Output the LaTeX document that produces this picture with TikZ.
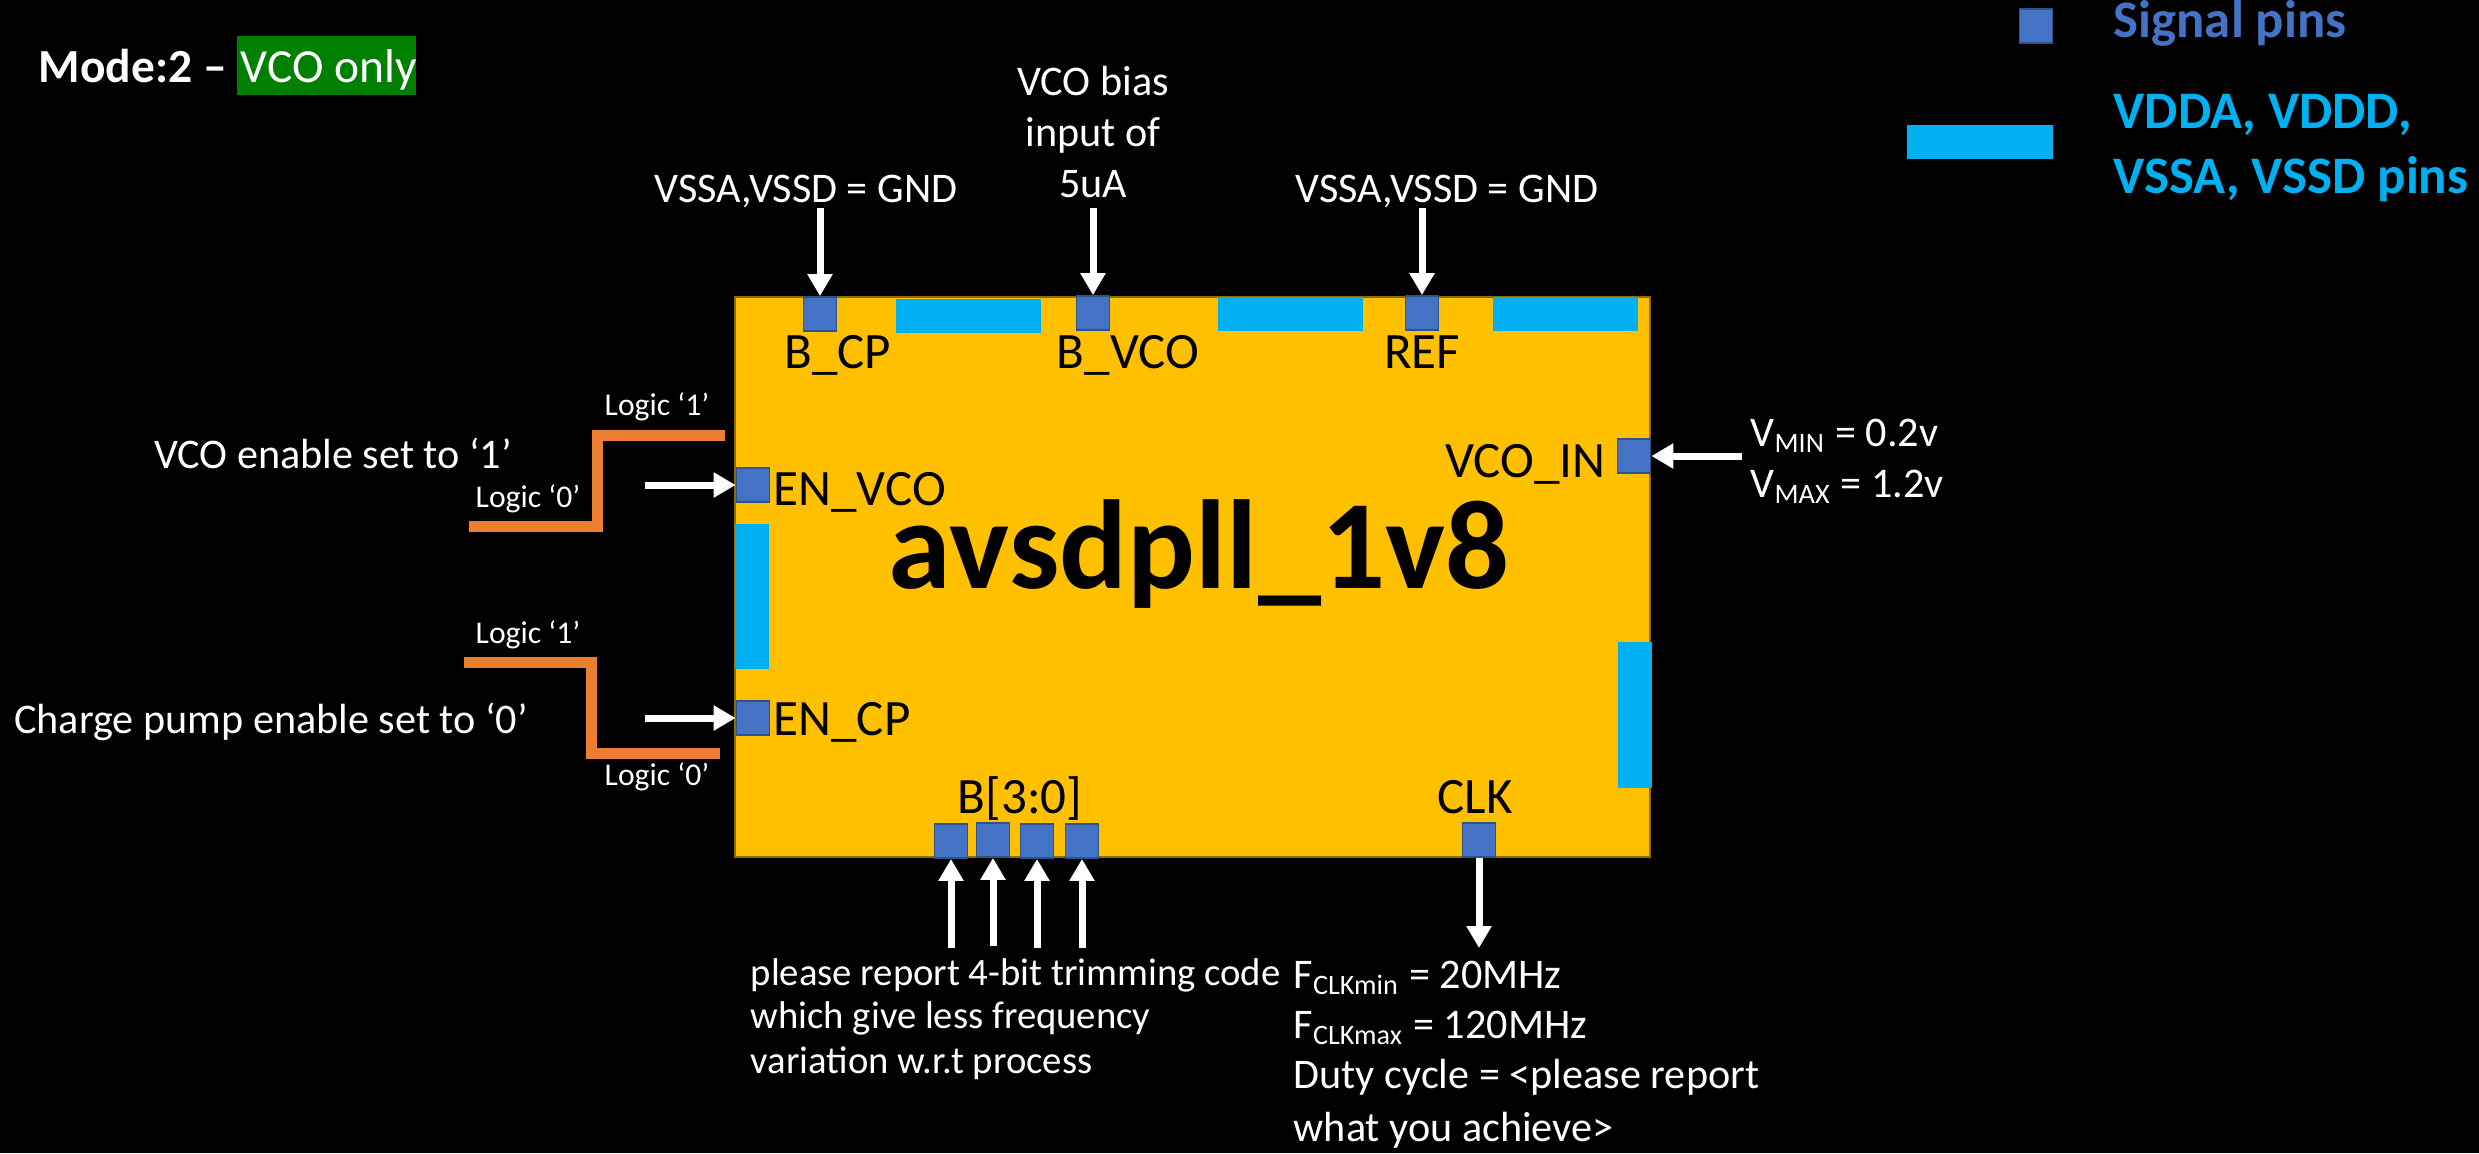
\documentclass[tikz,border=0pt]{standalone}
\usepackage{fontspec}
\setmainfont{Carlito}
\usetikzlibrary{arrows.meta}
\definecolor{pinblue}{HTML}{4472C4}
\definecolor{pinedge}{HTML}{2F528F}
\definecolor{pwrcyan}{HTML}{00B0F0}
\definecolor{chipfill}{HTML}{FFC000}
\definecolor{chipedge}{HTML}{8F6C00}
\definecolor{sigorange}{HTML}{ED7D31}
\definecolor{modegreen}{HTML}{008000}
\begin{document}
\begin{tikzpicture}[x=0.01cm,y=-0.01cm,
  sigpin/.style={draw=pinedge, fill=pinblue, line width=0.5pt, minimum width=0.33cm, minimum height=0.34cm, inner sep=0pt},
  pinlbl/.style={text=black, font=\fontsize{14.5}{17}\selectfont, inner sep=0pt},
  note/.style={text=white, font=\fontsize{12}{14}\selectfont, inner sep=0pt},
  smallnote/.style={text=white, font=\fontsize{11}{13}\selectfont, inner sep=0pt},
  lognote/.style={text=white, font=\fontsize{9}{11}\selectfont, inner sep=0pt},
  legend/.style={font=\bfseries\fontsize{15}{18}\selectfont, inner sep=0pt},
  warrow/.style={draw=white, line width=0.07cm, -{Triangle[width=0.24cm,length=0.22cm]}},
  sigwave/.style={draw=sigorange, line width=0.11cm, line join=miter},
  pwr/.style={fill=pwrcyan}
]
\useasboundingbox (0,0) rectangle (2479,1153);
\fill[black] (0,0) rectangle (2479,1153);

% title
\node[anchor=base west, text=white, font=\bfseries\fontsize{13.5}{16}\selectfont, inner sep=0pt] (mode) at (38,82) {Mode:2 –};
\fill[modegreen] (237,36) rectangle (416,95);
\node[anchor=base west, text=white, font=\fontsize{13.5}{16}\selectfont, inner sep=0pt] (vcoonly) at (240,82) {VCO only};

% legend
\node[sigpin] (legpin) at (2036,26) {};
\node[legend, text=pinblue, anchor=base west] (legsig) at (2113,37) {Signal pins};
\fill[pwr] (1907,125) rectangle (2053,159);
\node[legend, text=pwrcyan, anchor=base west] (legpwr1) at (2113,128) {VDDA, VDDD,};
\node[legend, text=pwrcyan, anchor=base west] (legpwr2) at (2113,193) {VSSA, VSSD pins};

% chip
\node[draw=chipedge, fill=chipfill, line width=0.5pt, minimum width=9.15cm, minimum height=5.6cm, inner sep=0pt] (chip) at (1192.5,577) {};
\node[anchor=base, text=black, font=\bfseries\fontsize{36}{40}\selectfont, inner sep=0pt] (chipname) at (1199,588) {avsdpll\_1v8};

% power bars
\fill[pwr] (896,299) rectangle (1041,333);
\fill[pwr] (1218,297) rectangle (1363,331);
\fill[pwr] (1493,297) rectangle (1638,331);
\fill[pwr] (735,524) rectangle (769,669);
\fill[pwr] (1618,642) rectangle (1652,788);

% signal pins
\node[sigpin] (bcp) at (820,314) {};
\node[sigpin] (bvco) at (1093,313) {};
\node[sigpin] (ref) at (1422,313) {};
\node[sigpin] (envco) at (753,485) {};
\node[sigpin] (encp) at (753,718) {};
\node[sigpin] (vcoin) at (1634,456) {};
\node[sigpin] (b3) at (951,841) {};
\node[sigpin] (b2) at (993,840) {};
\node[sigpin] (b1) at (1037,841) {};
\node[sigpin] (b0) at (1082,841) {};
\node[sigpin] (clk) at (1479,840) {};

% pin labels
\node[pinlbl, anchor=base] (lbcp) at (838,368) {B\_CP};
\node[pinlbl, anchor=base] (lbvco) at (1128,368) {B\_VCO};
\node[pinlbl, anchor=base] (lref) at (1422,368) {REF};
\node[pinlbl, anchor=base west] (lenvco) at (773,505) {EN\_VCO};
\node[pinlbl, anchor=base west] (lencp) at (773,735) {EN\_CP};
\node[pinlbl, anchor=base east] (lvcoin) at (1606,477) {VCO\_IN};
\node[pinlbl, anchor=base] (lb) at (1020,813) {B[3:0]};
\node[pinlbl, anchor=base] (lclk) at (1475,813) {CLK};

% top annotations
\node[note, anchor=base] (gndl) at (806,202) {VSSA,VSSD = GND};
\node[note, anchor=base] (bias1) at (1093,95) {VCO bias};
\node[note, anchor=base] (bias2) at (1093,146) {input of};
\node[note, anchor=base] (bias3) at (1093,197) {5uA};
\node[note, anchor=base] (gndr) at (1447,202) {VSSA,VSSD = GND};
\coordinate (tgndl) at (820,208);
\coordinate (tbias) at (1093,208);
\coordinate (tgndr) at (1422,208);
\draw[warrow] (tgndl) -- (bcp.north);
\draw[warrow] (tbias) -- (bvco.north);
\draw[warrow] (tgndr) -- (ref.north);

% left annotations
\node[note, anchor=base] (vcoen) at (333,468) {VCO enable set to ‘1’};
\node[note, anchor=base] (cpen) at (271,733) {Charge pump enable set to ‘0’};
\node[lognote, anchor=base] (l1a) at (657,415) {Logic ‘1’};
\node[lognote, anchor=base] (l0a) at (528,507) {Logic ‘0’};
\node[lognote, anchor=base] (l1b) at (528,643) {Logic ‘1’};
\node[lognote, anchor=base] (l0b) at (657,785) {Logic ‘0’};
\draw[sigwave] (469,526) -- (597,526) -- (597,435) -- (725,435);
\draw[sigwave] (464,662) -- (591,662) -- (591,753) -- (720,753);
\coordinate (tenvco) at (645,485);
\coordinate (tencp) at (645,718);
\draw[warrow] (tenvco) -- (envco.west);
\draw[warrow] (tencp) -- (encp.west);

% right annotation
\node[note, anchor=base west] (vmin) at (1750,446) {V\textsubscript{MIN} = 0.2v};
\node[note, anchor=base west] (vmax) at (1750,497) {V\textsubscript{MAX} = 1.2v};
\coordinate (tvcoin) at (1742,456);
\draw[warrow] (tvcoin) -- (vcoin.east);

% bottom annotations
\coordinate (tb3) at (951,948);
\coordinate (tb2) at (993,946);
\coordinate (tb1) at (1037,948);
\coordinate (tb0) at (1082,948);
\draw[warrow] (tb3) -- (b3.south);
\draw[warrow] (tb2) -- (b2.south);
\draw[warrow] (tb1) -- (b1.south);
\draw[warrow] (tb0) -- (b0.south);
\coordinate (tclk) at (1479,948);
\draw[warrow] (clk.south) -- (tclk);
\node[smallnote, anchor=base west] (trim1) at (750,985) {please report 4-bit trimming code};
\node[smallnote, anchor=base west] (trim2) at (750,1028) {which give less frequency};
\node[smallnote, anchor=base west] (trim3) at (750,1073) {variation w.r.t process};
\node[note, anchor=base west] (fmin) at (1293,988) {F\textsubscript{CLKmin} = 20MHz};
\node[note, anchor=base west] (fmax) at (1293,1038) {F\textsubscript{CLKmax} = 120MHz};
\node[note, anchor=base west] (duty1) at (1293,1088) {Duty cycle = <please report};
\node[note, anchor=base west] (duty2) at (1293,1141) {what you achieve>};
\end{tikzpicture}
\end{document}
